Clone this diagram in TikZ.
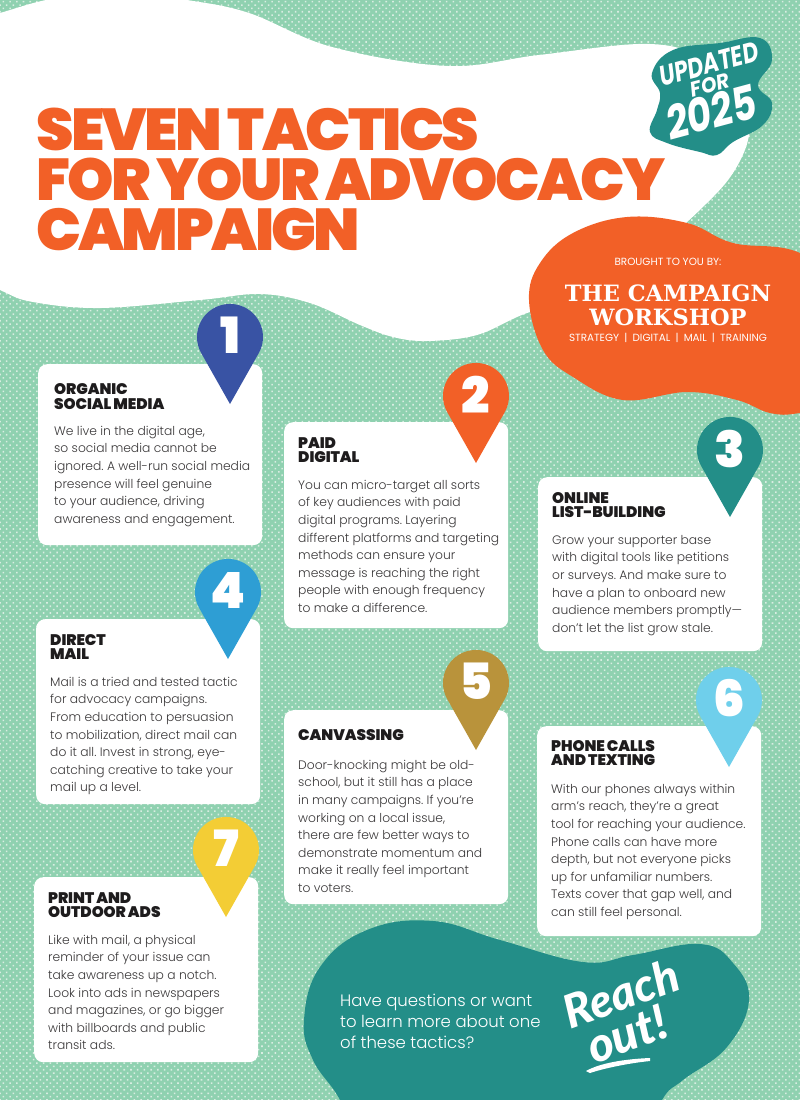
\documentclass[tikz,border=0pt]{standalone}
\usepackage{fontspec}
\usepackage{graphicx}
\usetikzlibrary{patterns.meta}
\setmainfont{Poppins Light}
\newfontfamily\ftitle{Poppins Black}[LetterSpace=-4.5,WordSpace=0.75]
\newfontfamily\fblack{Poppins Black}[LetterSpace=-0.5,WordSpace=0.8]
\newfontfamily\fdigit{Poppins Black}
\newfontfamily\flight{Poppins Light}
\newfontfamily\freg{Poppins}
\newfontfamily\fslab{DejaVu Serif}
\newfontfamily\fbrush{Poppins}
\newfontfamily\fscript{Lato Black}
\definecolor{bgmint}{HTML}{8FD1B0}
\definecolor{bgdot}{HTML}{D9EDE2}
\definecolor{torange}{HTML}{F26027}
\definecolor{tteal}{HTML}{238E88}
\definecolor{tink}{HTML}{1E1C1D}
\definecolor{tbody}{HTML}{3A3839}
\definecolor{pinblue}{HTML}{3953A4}
\definecolor{pinsky}{HTML}{2E9ED4}
\definecolor{pingold}{HTML}{B9933B}
\definecolor{pinpale}{HTML}{6FCFEB}
\definecolor{pinyellow}{HTML}{F3CD35}
\tikzset{
  cardbox/.style={fill=white,draw=none,rounded corners=9pt,inner sep=0pt},
  headtext/.style={anchor=north west,inner sep=0pt,align=left,text=tink,font=\fontsize{15.3}{14.7}\fblack},
  bodytext/.style={anchor=north west,inner sep=0pt,align=left,text=tbody,font=\frenchspacing\fontsize{12.3}{17.6}\flight},
  pindigit/.style={inner sep=0pt,text=white,font=\fontsize{50}{50}\fdigit},
  titletext/.style={anchor=base west,inner sep=0pt,text=torange,font=\fontsize{59}{59}\ftitle},
  whitetext/.style={inner sep=0pt,text=white},
}
\newcommand{\txo}{14}
\newcommand{\tcard}[9]{%
  \pgfmathsetmacro\cw{#4-#2}\pgfmathsetmacro\ch{#5-#3}%
  \node[cardbox,anchor=north west,minimum width=\cw pt,minimum height=\ch pt] (card#1) at (#2,#3) {};
  \pgfmathsetmacro\hx{#2+\txo}%
  \pgfmathsetmacro\hy{#6-11}%
  \pgfmathsetmacro\by{#8-12}%
  \node[headtext] (head#1) at (\hx,\hy) {\rule{0pt}{11pt}#7};
  \node[bodytext] (body#1) at (\hx,\by) {\rule{0pt}{12pt}#9};
}
\newcommand{\tpin}[5]{%
  \pgfmathsetmacro\cy{#3-68.5}%
  \fill[#4] (#2,#3) -- ++(28.7,-50.8) arc[start angle=29.5,end angle=-209.5,radius=33] -- cycle;
  \node[pindigit] (num#1) at (#2,\cy) {#5};
}
\begin{document}
\begin{tikzpicture}[x=1pt,y=-1pt]
\useasboundingbox (0,0) rectangle (800,1100);
\clip (0,0) rectangle (800,1100);
\fill[bgmint] (0,0) rectangle (800,1100);
\fill[pattern={Dots[distance=4.75pt,radius=1.1pt,angle=45]},pattern color=bgdot] (0,0) rectangle (800,1100);
% white blob
\fill[white] plot[smooth cycle,tension=0.6] coordinates {
 (-60,30) (0,13) (46,0) (110,-10) (187,0) (249,13) (332,47) (448,66) (539,55) (650,44) (705,62) (745,115) (748,140) (733,173) (707,203) (660,245) (590,295) (527,313) (477,335) (427,341) (393,337) (360,325) (310,303) (260,294) (200,300) (100,308) (33,302) (0,290) (-60,260)};
% orange blob
\fill[torange] plot[smooth cycle,tension=0.65] coordinates {
 (529,300) (540,263) (573,233) (627,217) (687,223) (733,243) (800,253) (860,300) (860,400) (800,413) (770,413) (737,400) (687,392) (623,400) (573,377) (543,350)};
% badge
\fill[tteal] plot[smooth cycle,tension=0.7] coordinates {
 (652,73) (673,50) (720,43) (760,38) (772,60) (758,85) (772,103) (763,125) (733,142) (717,155) (700,152) (667,143) (650,132) (657,110) (660,93)};
% bottom blob
\fill[tteal] plot[smooth cycle,tension=0.7] coordinates {
 (304,1020) (320,967) (367,930) (433,921) (500,940) (583,962) (633,955) (700,944) (733,963) (749,1000) (727,1047) (683,1080) (662,1100) (640,1150) (360,1150) (340,1100) (313,1060)};
% title
\node[titletext] (t1) at (36,150) {\scalebox{1.017}[1]{SEVEN TACTICS}};
\node[titletext] (t2) at (36,200) {FOR YOUR ADVOCACY};
\node[titletext] (t3) at (36,250) {\scalebox{1.01}[1]{CAMPAIGN}};
% badge text
\node[whitetext,rotate=15,font=\fontsize{28}{28}\fbrush\bfseries\itshape] (u1) at (709,64) {\scalebox{0.78}[1]{UPDATED}};
\node[whitetext,rotate=15,font=\fontsize{21}{21}\fbrush\bfseries\itshape] (u2) at (710,85) {\scalebox{0.95}[1]{FOR}};
\node[whitetext,rotate=15,font=\fontsize{47}{47}\fbrush\bfseries\itshape] (u3) at (711,112) {\scalebox{0.8}[1]{2025}};
% sponsor
\node[whitetext,font=\fontsize{10.4}{11}\freg] (b1) at (668,262) {BROUGHT TO YOU BY:};
\node[whitetext,font=\fontsize{22.5}{23}\fslab\bfseries] (b2) at (668,293) {THE CAMPAIGN};
\node[whitetext,font=\fontsize{22.5}{23}\fslab\bfseries] (b3) at (668,317) {WORKSHOP};
\node[whitetext,font=\fontsize{10.4}{11}\freg] (b4) at (668,338) {STRATEGY\enspace|\enspace DIGITAL\enspace|\enspace MAIL\enspace|\enspace TRAINING};
% cards
\renewcommand{\txo}{16}
\tcard{1}{38}{364}{262}{545}{394.5}{ORGANIC\\SOCIAL MEDIA}{435}{We live in the digital age,\\so social media cannot be\\ignored. A well-run social media\\presence will feel genuine\\to your audience, driving\\awareness and engagement.}
\renewcommand{\txo}{14}
\tcard{2}{284}{422}{508}{628}{448}{PAID\\DIGITAL}{489}{You can micro-target all sorts\\of key audiences with paid\\digital programs. Layering\\different platforms and targeting\\methods can ensure your\\message is reaching the right\\people with enough frequency\\to make a difference.}
\tcard{3}{538}{477}{762}{651}{503}{ONLINE\\LIST-BUILDING}{544}{Grow your supporter base\\with digital tools like petitions\\or surveys. And make sure to\\have a plan to onboard new\\audience members promptly—\\don’t let the list grow stale.}
\tcard{4}{36}{619}{260}{804}{645}{DIRECT\\MAIL}{686}{Mail is a tried and tested tactic\\for advocacy campaigns.\\From education to persuasion\\to mobilization, direct mail can\\do it all. Invest in strong, eye-\\catching creative to take your\\mail up a level.}
\tcard{5}{284}{710}{508}{904}{740}{CANVASSING}{769}{Door-knocking might be old-\\school, but it still has a place\\in many campaigns. If you’re\\working on a local issue,\\there are few better ways to\\demonstrate momentum and\\make it really feel important\\to voters.}
\tcard{6}{537}{726}{761}{936}{751}{PHONE CALLS\\AND TEXTING}{793}{With our phones always within\\arm’s reach, they’re a great\\tool for reaching your audience.\\Phone calls can have more\\depth, but not everyone picks\\up for unfamiliar numbers.\\Texts cover that gap well, and\\can still feel personal.}
\tcard{7}{34}{877}{258}{1062}{903}{PRINT AND\\OUTDOOR ADS}{944}{Like with mail, a physical\\reminder of your issue can\\take awareness up a notch.\\Look into ads in newspapers\\and magazines, or go bigger\\with billboards and public\\transit ads.}
% pins
\tpin{1}{230}{404}{pinblue}{1}
\tpin{2}{476}{463}{torange}{2}
\tpin{3}{730}{517}{tteal}{3}
\tpin{4}{228}{659}{pinsky}{4}
\tpin{5}{476}{750}{pingold}{5}
\tpin{6}{729}{767}{pinpale}{6}
\tpin{7}{226}{917}{pinyellow}{7}
% bottom text
\node[whitetext,anchor=north west,align=left,font=\fontsize{16.5}{21}\flight] (q) at (340,994) {Have questions or want\\to learn more about one\\of these tactics?};
\node[whitetext,rotate=20,font=\fontsize{46}{46}\fscript\itshape] (r1) at (621,993) {Reach};
\node[whitetext,rotate=20,font=\fontsize{48}{48}\fscript\itshape] (r2) at (627,1034) {out!};
\coordinate (s1) at (586,1071);
\coordinate (s2) at (650,1058);
\fill[white] (s1) .. controls (600,1063) and (625,1059) .. (s2) -- (650,1061) .. controls (630,1063) and (605,1068) .. (590,1073) -- cycle;
\end{tikzpicture}
\end{document}
